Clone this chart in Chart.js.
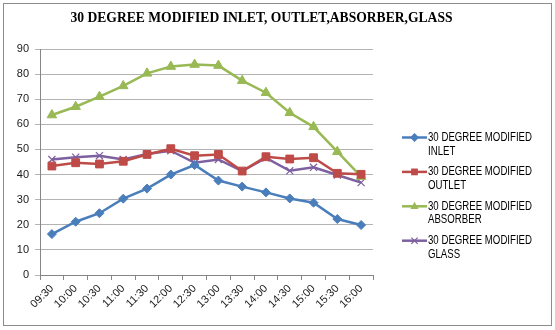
<!DOCTYPE html>
<html>
<head>
<meta charset="utf-8">
<script src="https://cdn.jsdelivr.net/npm/chart.js@4.4.1/dist/chart.umd.min.js"></script>
<style>
    html, body { margin: 0; padding: 0; background: #ffffff; }
    #wrap { position: relative; width: 555px; height: 330px; }
</style>
</head>
<body>
<div id="wrap"><canvas id="chart"></canvas></div>
<script>
const labels = [
    "09:30", "10:00", "10:30", "11:00", "11:30", "12:00", "12:30",
    "13:00", "13:30", "14:00", "14:30", "15:00", "15:30", "16:00",
];
const inlet = [16.3, 21.2, 24.6, 30.4, 34.4, 40.0, 43.8, 37.6, 35.2, 32.9, 30.5, 28.8, 22.3, 19.9];
const outlet = [43.4, 44.7, 44.2, 45.3, 48.0, 50.3, 47.5, 48.0, 41.4, 47.1, 46.2, 46.7, 40.5, 40.1];
const absorber = [63.7, 67.0, 71.0, 75.3, 80.3, 83.0, 83.8, 83.4, 77.4, 72.6, 64.6, 59.0, 49.1, 39.2];
const glass = [46.0, 46.9, 47.5, 46.0, 48.2, 49.5, 44.7, 46.0, 41.4, 46.6, 41.5, 42.9, 39.8, 36.8];
const seriesNames = [
    ["30 DEGREE MODIFIED", "INLET"],
    ["30 DEGREE MODIFIED", "OUTLET"],
    ["30 DEGREE MODIFIED", "ABSORBER"],
    ["30 DEGREE MODIFIED", "GLASS"],
];
const titleText = "30 DEGREE MODIFIED INLET, OUTLET,ABSORBER,GLASS";

function series(name, data, color, style, radius) {
    return {
        label: name.join(" "),
        data: data,
        borderColor: color,
        backgroundColor: color,
        pointBackgroundColor: color,
        pointBorderColor: color,
        borderWidth: 2.5,
        pointStyle: style,
        pointRadius: radius,
        pointBorderWidth: style === "crossRot" ? 1.2 : 1,
        tension: 0,
    };
}

// small marker drawer for the side legend
function marker(ctx, style, x, y, r, color) {
    ctx.save();
    ctx.fillStyle = color;
    ctx.strokeStyle = color;
    ctx.beginPath();
    if (style === "rectRot") {
        ctx.moveTo(x, y - r); ctx.lineTo(x + r, y); ctx.lineTo(x, y + r); ctx.lineTo(x - r, y);
        ctx.closePath(); ctx.fill();
    } else if (style === "rect") {
        ctx.fillRect(x - r * 0.75, y - r * 0.75, r * 1.5, r * 1.5);
    } else if (style === "triangle") {
        ctx.moveTo(x, y - r); ctx.lineTo(x + r * 0.9, y + r * 0.6); ctx.lineTo(x - r * 0.9, y + r * 0.6);
        ctx.closePath(); ctx.fill();
    } else {
        ctx.lineWidth = 1.2;
        const d = r * 0.7;
        ctx.moveTo(x - d, y - d); ctx.lineTo(x + d, y + d);
        ctx.moveTo(x + d, y - d); ctx.lineTo(x - d, y + d);
        ctx.stroke();
    }
    ctx.restore();
}

const decorPlugin = {
    id: "decor",
    afterDraw(chart) {
        const ctx = chart.ctx;
        ctx.save();
        // outer frame
        ctx.strokeStyle = "#8c8c8c";
        ctx.lineWidth = 1;
        ctx.strokeRect(3.5, 3.5, 548, 322);
        // title
        ctx.fillStyle = "#000000";
        ctx.font = "bold 13.6px 'Liberation Serif', 'Times New Roman', serif";
        ctx.textAlign = "center";
        ctx.textBaseline = "middle";
        ctx.fillText(titleText, 261.5, 18.5);
        // legend, text squeezed to the narrow width of the original font
        ctx.font = "12px 'Liberation Sans', Arial, sans-serif";
        ctx.textAlign = "left";
        const squeeze = 104 / ctx.measureText(seriesNames[0][0]).width;
        chart.data.datasets.forEach((ds, i) => {
            const y = 137.5 + i * 34.4;
            ctx.strokeStyle = ds.borderColor;
            ctx.lineWidth = 2.5;
            ctx.beginPath();
            ctx.moveTo(402, y);
            ctx.lineTo(427, y);
            ctx.stroke();
            marker(ctx, ds.pointStyle, 414.5, y, 4.5, ds.borderColor);
            ctx.fillStyle = "#000000";
            seriesNames[i].forEach((line, j) => {
                const w = ctx.measureText(line).width * squeeze;
                ctx.fillText(line, 428, y + j * 13.8, w);
            });
        });
        ctx.restore();
    },
};

const config = {
    type: "line",
    data: {
        labels: labels,
        datasets: [
            series(seriesNames[0], inlet, "#4a7ebb", "rectRot", 4.5),
            series(seriesNames[1], outlet, "#be4b48", "rect", 5.5),
            series(seriesNames[2], absorber, "#98b954", "triangle", 5.5),
            series(seriesNames[3], glass, "#7d60a0", "crossRot", 5),
        ],
    },
    options: {
        responsive: true,
        maintainAspectRatio: false,
        animation: false,
        layout: {
            padding: { top: 49, right: 182, bottom: 0, left: 0 },
        },
        scales: {
            x: {
                offset: true,
                afterFit: function (scale) { scale.height = 55; },
                grid: {
                    offset: true,
                    drawOnChartArea: false,
                    tickLength: 5,
                    color: "#868686",
                },
                border: { color: "#868686" },
                ticks: {
                    minRotation: 45,
                    maxRotation: 45,
                    autoSkip: false,
                    padding: 2,
                    color: "#1a1a1a",
                    font: { size: 11, family: "'Liberation Sans', Arial, sans-serif" },
                },
            },
            y: {
                min: 0,
                max: 90,
                afterFit: function (scale) { scale.width = 40; },
                grid: {
                    tickLength: 5,
                    color: "#b3b3b3",
                },
                border: { color: "#868686" },
                ticks: {
                    stepSize: 10,
                    padding: 6,
                    color: "#1a1a1a",
                    font: { size: 11, family: "'Liberation Sans', Arial, sans-serif" },
                },
            },
        },
        plugins: {
            legend: { display: false },
            title: { display: false },
            tooltip: { enabled: false },
        },
    },
    plugins: [decorPlugin],
};

var chart = new Chart(document.getElementById("chart"), config);
</script>
</body>
</html>
